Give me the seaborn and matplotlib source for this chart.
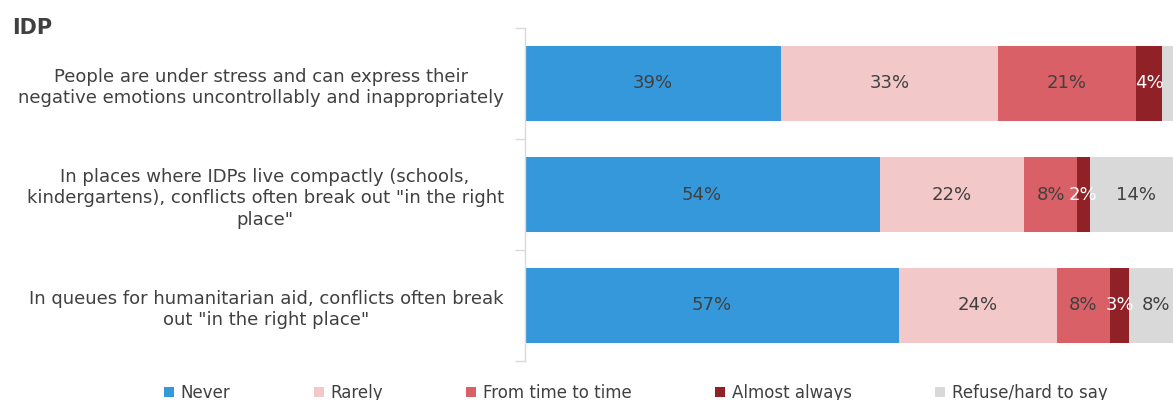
import matplotlib
matplotlib.use("Agg")
import matplotlib.pyplot as plt
from matplotlib.patches import Patch
import numpy as np
import pandas as pd
import seaborn as sns

# Survey statements (IDP respondents)
statements = [
    "People are under stress and can express their\nnegative emotions uncontrollably and inappropriately",
    "In places where IDPs live compactly (schools,\nkindergartens), conflicts often break out \"in the right\nplace\"",
    "In queues for humanitarian aid, conflicts often break\nout \"in the right place\"",
]
answers = ["Never", "Rarely", "From time to time", "Almost always", "Refuse/hard to say"]

never = [39, 54, 57]
rarely = [33, 22, 24]
time_to_time = [21, 8, 8]
almost_always = [4, 2, 3]
refuse = [3, 14, 8]

# which segments carry a value label
shown_labels = {
    "Refuse/hard to say": [False, True, True],
}

colors = ["#3498db", "#f2c8c9", "#d96066", "#8f2127", "#d9d9d9"]
label_colors = ["#404040", "#404040", "#404040", "#ffffff", "#404040"]

sns.set_theme(style="white")
plt.rcParams["font.family"] = ["DejaVu Sans"]

df = pd.DataFrame(
    {"statement": statements, "Never": never, "Rarely": rarely,
     "From time to time": time_to_time, "Almost always": almost_always,
     "Refuse/hard to say": refuse}
)
cum = df[answers].cumsum(axis=1)

fig = plt.figure(figsize=(11.73, 4.0), dpi=100)
ax = fig.add_axes([524.5 / 1173, 39 / 400, (1182 - 524.5) / 1173, 333 / 400])

# stacked bars: draw cumulative totals from the outermost segment inward
for ans, col in reversed(list(zip(answers, colors))):
    sns.barplot(x=cum[ans], y=df["statement"], color=col, orient="h",
                width=0.667, linewidth=0, saturation=1, ax=ax)

for j, ans in enumerate(answers):
    vals = df[ans].to_numpy()
    ends = cum[ans].to_numpy()
    show = shown_labels.get(ans, [True] * len(vals))
    for i, (v, e) in enumerate(zip(vals, ends)):
        if not show[i]:
            continue
        ax.text(e - v / 2, i, f"{v}%", ha="center", va="center",
                fontsize=13, color=label_colors[j])

ax.set_xlim(0, 100)
ax.set_ylim(2.5, -0.5)
ax.set_xlabel("")
ax.set_ylabel("")
ax.set_xticks([])
for s in ["top", "right", "bottom"]:
    ax.spines[s].set_visible(False)
ax.spines["left"].set_color("#d9d9d9")
ax.spines["left"].set_linewidth(1)

ax.tick_params(axis="y", which="major", length=0, pad=15, labelsize=13,
               labelcolor="#404040")
ax.set_yticks(range(len(statements)))
ax.set_yticklabels(statements, multialignment="center", linespacing=1.25)
ax.set_yticks([-0.5, 0.5, 1.5, 2.5], minor=True)
ax.tick_params(axis="y", which="minor", length=7, color="#d9d9d9", width=1,
               left=True)

fig.text(12 / 1173, 1 - 28 / 400, "IDP", fontsize=15, fontweight="bold",
         color="#404040", ha="left", va="center")

handles = [Patch(facecolor=c, edgecolor="none") for c in colors]
fig.legend(handles, answers, loc="center left", bbox_to_anchor=(149 / 1173, 1 - 393 / 400),
           ncol=5, frameon=False, fontsize=12, handlelength=0.6, handleheight=0.6,
           handletextpad=0.4, columnspacing=5.0, labelcolor="#404040")

fig.savefig("out.png", dpi=100)
